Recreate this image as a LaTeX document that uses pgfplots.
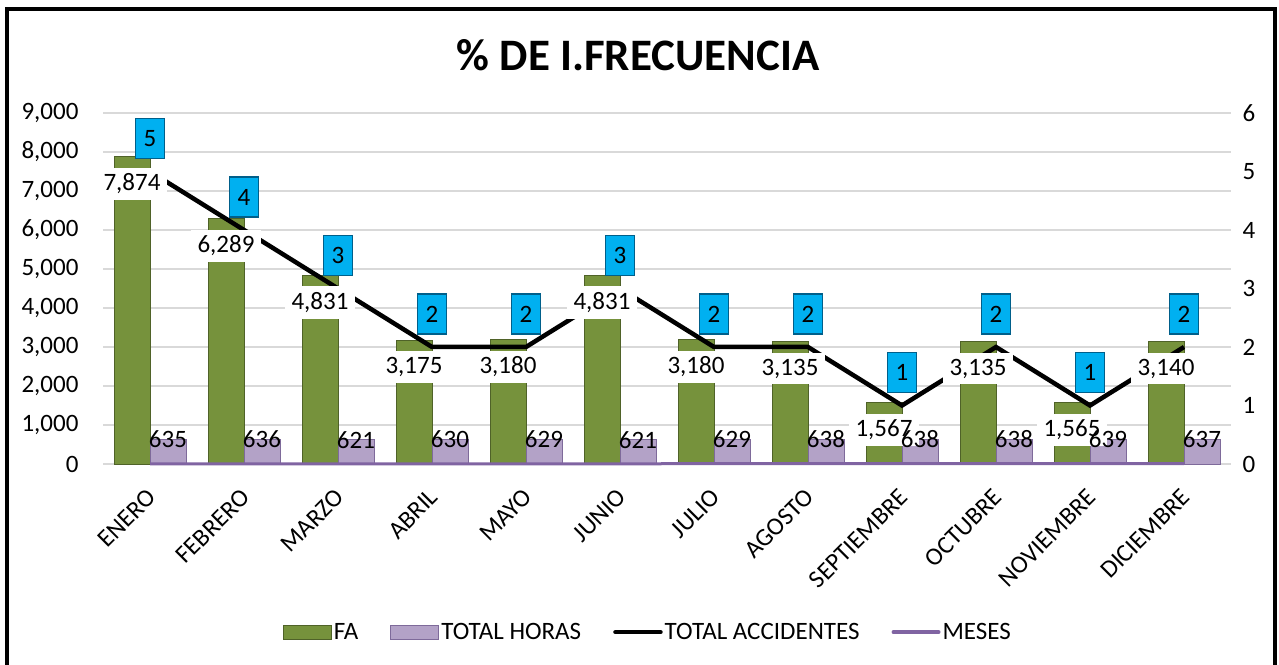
\documentclass[border=0pt]{standalone}
\usepackage{fontspec}
\setmainfont{Carlito}
\usepackage{pgfplots}
\usepackage{pgfplotstable}
\pgfplotsset{compat=1.18}
\pgfplotsset{/pgf/number format/.cd, 1000 sep={,}, assume math mode=true}

\definecolor{faG}{HTML}{76923C}
\definecolor{faD}{HTML}{4F6228}
\definecolor{thP}{HTML}{B3A2C7}
\definecolor{thD}{HTML}{7E6A9A}
\definecolor{mesP}{HTML}{8064A2}
\definecolor{accB}{HTML}{00B0F0}
\definecolor{accD}{HTML}{005F8A}
\definecolor{gridG}{HTML}{D9D9D9}

\newcommand{\fs}{\fontsize{25}{29}\selectfont}

\pgfplotstableread{
x fa th acc mes
0 7874 635 5 1
1 6289 636 4 2
2 4831 621 3 3
3 3175 630 2 4
4 3180 629 2 5
5 4831 621 3 6
6 3180 629 2 7
7 3135 638 2 8
8 1567 638 1 9
9 3135 638 2 10
10 1565 639 1 11
11 3140 637 2 12
}\datatable

\pgfplotsset{base/.style={width=1128pt,height=351pt,scale only axis,
  at={(103pt,200pt)}, anchor=south west, xmin=-0.5, xmax=11.5, clip=false}}

\begin{document}
\begin{tikzpicture}
\path[use as bounding box] (0pt,0pt) rectangle (1279pt,664pt);

% axis 1: bars
\begin{axis}[base, ymin=0, ymax=9000, ytick={0,1000,...,9000},
  ymajorgrids, grid style={gridG, line width=1.5pt},
  axis line style={draw=none}, tick style={draw=none},
  xtick={0,...,11},
  xticklabels={ENERO,FEBRERO,MARZO,ABRIL,MAYO,JUNIO,JULIO,AGOSTO,SEPTIEMBRE,OCTUBRE,NOVIEMBRE,DICIEMBRE},
  xticklabel style={font=\fs, rotate=45, anchor=east, yshift=-22pt, xshift=-16pt},
  yticklabel style={font=\fs, xshift=-21pt}]
\addplot[ybar, bar width=36pt, bar shift=-18pt, draw=faD, line width=1pt, fill=faG] table[x=x,y=fa]{\datatable};
\addplot[ybar, bar width=36pt, bar shift=18pt, draw=thD, line width=1pt, fill=thP] table[x=x,y=th]{\datatable};
\addplot[mesP, line width=3pt, sharp plot] table[x=x,y=mes]{\datatable};
\end{axis}

% axis 2: total accidentes on right axis
\begin{axis}[base, ymin=0, ymax=6, ytick={0,...,6},
  axis y line*=right, hide x axis,
  y axis line style={draw=none}, tick style={draw=none},
  yticklabel style={font=\fs, xshift=8pt}]
\addplot[black, line width=4.5pt, sharp plot, nodes near coords,
  every node near coord/.append style={anchor=center, yshift=33pt, fill=accB,
    draw=accD, line width=1.2pt, text=black, font=\fs, inner xsep=8pt, minimum height=40pt}]
  table[x=x,y=acc]{\datatable};
\end{axis}

% axis 3: labels + legend
\begin{axis}[base, ymin=0, ymax=9000, hide axis,
  legend style={at={(0.483,-0.479)}, anchor=center, draw=none, fill=none,
    legend columns=4, font=\fs,
    /tikz/every even column/.append style={column sep=30pt}},
  legend cell align=left]
\addplot[ybar, bar width=36pt, bar shift=-18pt, draw=none, fill=none, forget plot,
  nodes near coords,
  every node near coord/.append style={anchor=center, xshift=-18pt, yshift=-27pt, fill=white,
    text=black, font=\fs, inner xsep=7pt, inner ysep=6pt}]
  table[x=x,y=fa]{\datatable};
\addplot[ybar, bar width=36pt, bar shift=18pt, draw=none, fill=none, forget plot,
  nodes near coords,
  every node near coord/.append style={anchor=center, xshift=18pt, yshift=0pt, text=black, font=\fs}]
  table[x=x,y=th]{\datatable};
\addlegendimage{legend image code/.code={\draw[draw=faD, line width=1pt, fill=faG] (0pt,-7pt) rectangle (48pt,7pt);}}
\addlegendentry{FA}
\addlegendimage{legend image code/.code={\draw[draw=thD, line width=1pt, fill=thP] (0pt,-7pt) rectangle (48pt,7pt);}}
\addlegendentry{TOTAL HORAS}
\addlegendimage{legend image code/.code={\draw[black, line width=4.5pt, line cap=round] (3pt,0pt) -- (48pt,0pt);}}
\addlegendentry{TOTAL ACCIDENTES}
\addlegendimage{legend image code/.code={\draw[mesP, line width=4pt, line cap=round] (3pt,0pt) -- (48pt,0pt);}}
\addlegendentry{MESES}
\end{axis}

\node[font=\fontsize{45}{52}\selectfont\bfseries] at (638pt,609pt) {\% DE I.FRECUENCIA};
\draw[line width=4pt] (7pt,-30pt) rectangle (1275pt,654.5pt);
\end{tikzpicture}
\end{document}
